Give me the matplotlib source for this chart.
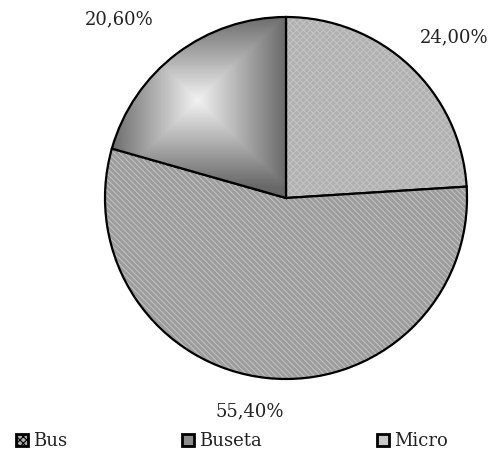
import numpy as np
import matplotlib
matplotlib.use("Agg")
import matplotlib.pyplot as plt
from matplotlib.patches import Patch

categories = ["Bus", "Buseta", "Micro"]
values = [24.0, 55.4, 20.6]
labels = ["24,00%", "55,40%", "20,60%"]

plt.rcParams['font.family'] = ['DejaVu Serif']
plt.rcParams['hatch.linewidth'] = 0.8

W, H = 491, 455
fig = plt.figure(figsize=(W / 100, H / 100), dpi=100)
cx, cy, R = 286, 198, 181
ax = fig.add_axes([(cx - R) / W, (H - cy - R) / H, 2 * R / W, 2 * R / H])

face = ["#b0b0b0", "#9c9c9c", "#9a9a9a"]
hatches = ["xxxxx", "\\\\\\\\\\\\", None]
wedges, texts = ax.pie(values, labels=labels, startangle=90, counterclock=False,
                       colors=face, radius=1, labeldistance=1.24,
                       wedgeprops=dict(edgecolor="black", linewidth=1.6),
                       textprops=dict(fontsize=13, color="#222222"))
for w, h in zip(wedges, hatches):
    if h:
        w.set_hatch(h)
wedges[0]._hatch_color = matplotlib.colors.to_rgba("#c2c2c2")
wedges[1]._hatch_color = matplotlib.colors.to_rgba("#c0c0c0")

# pyramid gradient fill for the Micro wedge (masked outside the wedge)
mw = wedges[2]
a1, a2 = sorted([mw.theta1 % 360, mw.theta2 % 360])
cs = [np.cos(np.deg2rad(a)) for a in (a1, a2)]
x0, x1 = min(cs + [0.0]), max(cs + [0.0])
y0, y1 = 0.0, 1.0
gx = np.linspace(x0, x1, 400)
gy = np.linspace(y0, y1, 400)
X, Y = np.meshgrid(gx, gy)
ccx, ccy = -0.49, 0.54
v = np.maximum(np.abs(X - ccx) / (ccx - x0 + 0.02), np.abs(Y - ccy) / (y1 - ccy + 0.02))
v = np.clip(v, 0, 1)
ang = np.rad2deg(np.arctan2(Y, X)) % 360
inside = (X ** 2 + Y ** 2 <= 1.0) & (ang >= a1 - 0.5) & (ang <= a2 + 0.5)
v = np.ma.masked_where(~inside, v)
cmap = matplotlib.colormaps["gray_r"].copy()
cmap.set_bad((1, 1, 1, 0))
ax.imshow(v, extent=[x0, x1, y0, y1], origin="lower", cmap=cmap,
          vmin=-0.1, vmax=1.75, zorder=1.5, interpolation="nearest")
mw.set_facecolor("none")
mw.set_zorder(2)

# label positions
for t, (dx, dy) in zip(texts, [(0.93, 0.89), (-0.2, -1.18), (-0.92, 0.985)]):
    t.set_position((dx, dy))
    t.set_ha("center")
    t.set_va("center")

ax.set_xlim(-1, 1)
ax.set_ylim(-1, 1)
ax.set_aspect("auto")
ax.axis("off")

handles = [Patch(facecolor="#b0b0b0", edgecolor="black", linewidth=2, hatch="xxxxx"),
           Patch(facecolor="#8c8c8c", edgecolor="black", linewidth=2),
           Patch(facecolor="#c8c8c8", edgecolor="black", linewidth=2)]
leg = fig.legend(handles, categories, loc="center left", ncol=3, mode="expand",
                 bbox_to_anchor=(9 / W, 4 / H, 446 / W, 20 / H), frameon=False,
                 fontsize=13, handlelength=0.65, handleheight=0.65,
                 handletextpad=0.3, borderaxespad=0)
for t in leg.get_texts():
    t.set_color("#222222")

fig.savefig("out.png", dpi=100)
